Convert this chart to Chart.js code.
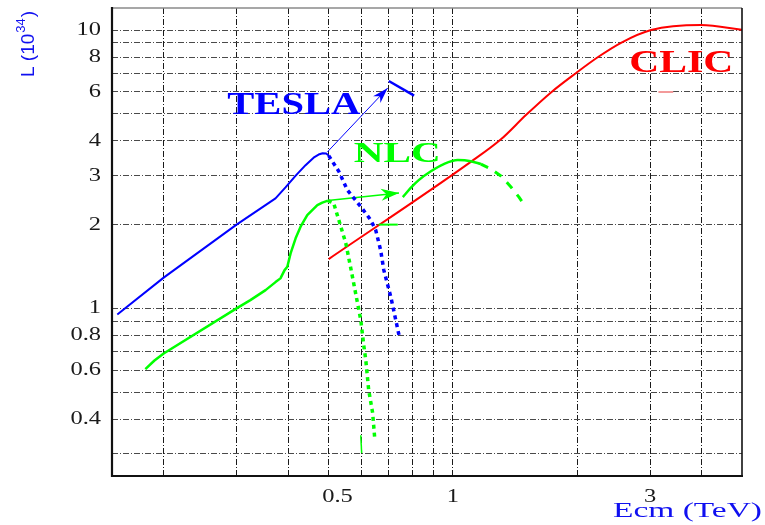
<!DOCTYPE html>
<html>
<head>
<meta charset="utf-8">
<script src="https://cdn.jsdelivr.net/npm/chart.js@4.4.1/dist/chart.umd.min.js"></script>
<style>
  html, body { margin: 0; padding: 0; background: #ffffff; }
  canvas { display: block; }
</style>
</head>
<body>
<canvas id="lumi" width="765" height="525"></canvas>
<script>
// Luminosity L (10^34 cm^-2 s^-1) against centre-of-mass energy Ecm (TeV)

// TESLA: nominal curve, fall-off beyond 0.5 TeV, 0.8 TeV upgrade, arrow to upgrade
const teslaE      = [0.1545, 0.2, 0.3, 0.3727, 0.394, 0.417, 0.4405, 0.4607, 0.4737, 0.4845, 0.494, 0.501];
const teslaL      = [0.951, 1.29, 2.0, 2.485, 2.72, 3.00, 3.27, 3.48, 3.57, 3.61, 3.60, 3.54];
const teslaFallE  = [0.501, 0.5305, 0.556, 0.599, 0.633, 0.651, 0.669, 0.681, 0.708, 0.741];
const teslaFallL  = [3.54, 3.10, 2.66, 2.32, 2.08, 1.91, 1.62, 1.373, 1.10, 0.802];
const teslaUpE    = [0.700, 0.806];
const teslaUpL    = [6.56, 5.81];
const teslaArrowE = [0.4976, 0.696];
const teslaArrowL = [3.65, 6.19];

// NLC: 500 GeV machine, its fall-off, 1 TeV machine, arrow between them
const nlcE        = [0.1806, 0.19, 0.2, 0.3, 0.324, 0.3526, 0.3727, 0.383, 0.392, 0.398, 0.4053, 0.4168,
                     0.4285, 0.4447, 0.4573, 0.4704, 0.4836, 0.4989];
const nlcL        = [0.605, 0.65, 0.689, 1.0, 1.071, 1.163, 1.243, 1.282, 1.373, 1.411, 1.576, 1.785,
                     1.965, 2.164, 2.255, 2.35, 2.40, 2.44];
const nlcFallE    = [0.4989, 0.515, 0.530, 0.551, 0.566, 0.582, 0.599, 0.609, 0.616, 0.626, 0.640, 0.647];
const nlcFallL    = [2.44, 2.39, 2.08, 1.717, 1.406, 1.135, 0.908, 0.738, 0.652, 0.509, 0.421, 0.345];
const nlcTevE     = [0.757, 0.791, 0.827, 0.885, 0.951, 1.028, 1.105, 1.169];
const nlcTevL     = [2.51, 2.71, 2.89, 3.11, 3.30, 3.41, 3.38, 3.30];
const nlcTailE    = [1.169, 1.236, 1.307, 1.382, 1.445, 1.502];
const nlcTailL    = [3.30, 3.17, 2.99, 2.73, 2.51, 2.31];
const nlcArrowE   = [0.499, 0.741];
const nlcArrowL   = [2.44, 2.60];
const nlcMarkE    = [0.662, 0.736];
const nlcMarkL    = [2.0, 2.0];
const nlcStubE    = [0.599, 0.602];
const nlcStubL    = [0.350, 0.302];

// CLIC
const clicE       = [0.501, 1.105, 1.307, 1.502, 1.727, 1.986, 2.244, 2.55, 3.015, 3.98, 5.04];
const clicL       = [1.504, 3.36, 4.05, 4.95, 5.97, 7.01, 8.0, 9.0, 10.0, 10.42, 10.0];
const clicMarkE   = [3.14, 3.41];
const clicMarkL   = [5.99, 5.99];

// Grid positions and the values that carry a label
const xGridValues  = [0.2, 0.3, 0.4, 0.5, 0.6, 0.7, 0.8, 0.9, 1, 2, 3, 4];
const yGridValues  = [0.3, 0.4, 0.5, 0.6, 0.7, 0.8, 0.9, 1, 2, 3, 4, 5, 6, 7, 8, 9, 10];
const xTickLabels  = [0.5, 1, 3];
const yTickLabels  = [0.4, 0.6, 0.8, 1, 2, 3, 4, 6, 8, 10];

// Machine names, anchored at (E, L) of their left baseline
const machineNames = ['TESLA', 'NLC', 'CLIC'];
const machineNameE = [0.285, 0.576, 2.67];
const machineNameL = [4.99, 3.36, 7.06];

const BLUE = '#0000ff', GREEN = '#00ff00', RED = '#ff0000';
const SERIF = '"Liberation Serif", "Times New Roman", serif';
const SANS = '"Liberation Sans", Arial, sans-serif';

const pts = (xs, ys) => xs.map((x, i) => ({ x: x, y: ys[i] }));

function line(data, color, width, extra) {
  return Object.assign({
    data: data,
    borderColor: color,
    backgroundColor: color,
    borderWidth: width,
    pointRadius: 0,
    pointHoverRadius: 0,
    fill: false,
    tension: 0,
    borderCapStyle: 'butt',
    borderJoinStyle: 'round'
  }, extra || {});
}

const datasets = [
  line(pts(teslaE, teslaL), BLUE, 2),
  line(pts(teslaFallE, teslaFallL), BLUE, 3.5, { borderDash: [4, 4] }),
  line(pts(teslaUpE, teslaUpL), BLUE, 2.5),
  line(pts(teslaArrowE, teslaArrowL), BLUE, 1, { arrowHead: { length: 16, half: 5 } }),
  line(pts(nlcE, nlcL), GREEN, 2.5),
  line(pts(nlcFallE, nlcFallL), GREEN, 3.5, { borderDash: [4, 4] }),
  line(pts(nlcTevE, nlcTevL), GREEN, 2.5, { cubicInterpolationMode: 'monotone' }),
  line(pts(nlcTailE, nlcTailL), GREEN, 3, { borderDash: [8, 8] }),
  line(pts(nlcArrowE, nlcArrowL), GREEN, 1.5, { arrowHead: { length: 18, half: 6 } }),
  line(pts(nlcMarkE, nlcMarkL), GREEN, 2),
  line(pts(nlcStubE, nlcStubL), GREEN, 1.5),
  line(pts(clicE, clicL), RED, 2, { cubicInterpolationMode: 'monotone' }),
  line(pts(clicMarkE, clicMarkL), '#f39a9a', 2)
];

// Text drawn with a horizontal stretch factor
function drawText(ctx, text, x, y, font, color, sx, align) {
  ctx.save();
  ctx.font = font;
  ctx.fillStyle = color;
  ctx.textBaseline = 'alphabetic';
  ctx.textAlign = 'left';
  const w = ctx.measureText(text).width;
  let ox = 0;
  if (align === 'right') ox = -w;
  else if (align === 'center') ox = -w / 2;
  ctx.translate(x, y);
  ctx.scale(sx, 1);
  ctx.fillText(text, ox, 0);
  ctx.restore();
}
function fitText(ctx, text, x, y, font, color, targetWidth) {
  ctx.save();
  ctx.font = font;
  const w = ctx.measureText(text).width;
  ctx.restore();
  drawText(ctx, text, x, y, font, color, targetWidth / w, 'left');
}

const arrowHeads = {
  id: 'arrowHeads',
  afterDatasetsDraw(chart) {
    const ctx = chart.ctx;
    chart.data.datasets.forEach((ds, i) => {
      if (!ds.arrowHead) return;
      const p = chart.getDatasetMeta(i).data;
      const a = p[p.length - 2], b = p[p.length - 1];
      const ang = Math.atan2(b.y - a.y, b.x - a.x);
      const { length, half } = ds.arrowHead;
      ctx.save();
      ctx.fillStyle = ds.borderColor;
      ctx.translate(b.x, b.y);
      ctx.rotate(ang);
      ctx.beginPath();
      ctx.moveTo(0, 0);
      ctx.lineTo(-length, -half);
      ctx.lineTo(-length * 0.7, 0);
      ctx.lineTo(-length, half);
      ctx.closePath();
      ctx.fill();
      ctx.restore();
    });
  }
};

const frameAndText = {
  id: 'frameAndText',
  afterDraw(chart) {
    const ctx = chart.ctx;
    const { left, right, top, bottom } = chart.chartArea;
    const xs = chart.scales.x, ys = chart.scales.y;

    // plot frame
    ctx.save();
    ctx.strokeStyle = '#8a8a8a';
    ctx.lineWidth = 1.5;
    ctx.beginPath(); ctx.moveTo(left, top); ctx.lineTo(right, top); ctx.stroke();
    ctx.strokeStyle = '#111111';
    ctx.lineWidth = 1.6;
    ctx.beginPath(); ctx.moveTo(right, top); ctx.lineTo(right, bottom); ctx.stroke();
    ctx.lineWidth = 2.2;
    ctx.beginPath(); ctx.moveTo(left, top - 1); ctx.lineTo(left, bottom); ctx.lineTo(right + 1, bottom); ctx.stroke();
    ctx.restore();

    // tick labels
    const tickFont = '18px ' + SERIF;
    yTickLabels.forEach(v => {
      drawText(ctx, String(v), left - 11, ys.getPixelForValue(v) + 5, tickFont, '#1a1a1a', 1.36, 'right');
    });
    xTickLabels.forEach(v => {
      const s = String(v);
      ctx.save(); ctx.font = tickFont;
      const first = ctx.measureText(s.charAt(0)).width * 1.36;
      ctx.restore();
      drawText(ctx, s, xs.getPixelForValue(v) - first / 2, bottom + 26, tickFont, '#1a1a1a', 1.36, 'left');
    });

    // machine names
    const nameFonts = ['bold 32px ' + SERIF, 'bold 30px ' + SERIF, 'bold 32px ' + SERIF];
    const nameColors = [BLUE, GREEN, RED];
    const nameWidths = [133, 87, 104];
    machineNames.forEach((t, i) => {
      fitText(ctx, t, xs.getPixelForValue(machineNameE[i]), ys.getPixelForValue(machineNameL[i]),
              nameFonts[i], nameColors[i], nameWidths[i]);
    });

    // axis titles
    fitText(ctx, 'Ecm (TeV)', 613, 517, '22px ' + SERIF, '#1010f0', 149);

    ctx.save();
    ctx.translate(34, 77);
    ctx.rotate(-Math.PI / 2);
    ctx.fillStyle = '#1010f0';
    ctx.textBaseline = 'alphabetic';
    ctx.font = '19px ' + SANS;
    const base = 'L (10';
    ctx.fillText(base, 0, 0);
    let w = ctx.measureText(base).width;
    ctx.font = '13px ' + SANS;
    ctx.fillText('34', w + 1, -9);
    w += ctx.measureText('34').width + 2;
    ctx.font = '19px ' + SANS;
    ctx.fillText(')', w, 0);
    ctx.restore();
  }
};

const gridStyle = (color) => ({
  display: true,
  drawOnChartArea: true,
  drawTicks: false,
  color: color,
  lineWidth: 1
});

new Chart(document.getElementById('lumi'), {
  type: 'line',
  data: { datasets: datasets },
  options: {
    responsive: false,
    animation: false,
    events: [],
    layout: { padding: { left: 112, right: 23, top: 8, bottom: 49 } },
    plugins: { legend: { display: false }, tooltip: { enabled: false } },
    scales: {
      x: {
        type: 'logarithmic',
        min: 0.15,
        max: 5,
        afterBuildTicks: (s) => { s.ticks = xGridValues.map(v => ({ value: v })); },
        ticks: { display: false },
        grid: gridStyle('#1a1a1a'),
        border: { display: false, dash: [6, 2, 1, 2] }
      },
      y: {
        type: 'logarithmic',
        min: 0.25,
        max: 12,
        afterBuildTicks: (s) => { s.ticks = yGridValues.map(v => ({ value: v })); },
        ticks: { display: false },
        grid: gridStyle('#4a4a4a'),
        border: { display: false, dash: [6, 2, 1, 2] }
      }
    }
  },
  plugins: [arrowHeads, frameAndText]
});
</script>
</body>
</html>
